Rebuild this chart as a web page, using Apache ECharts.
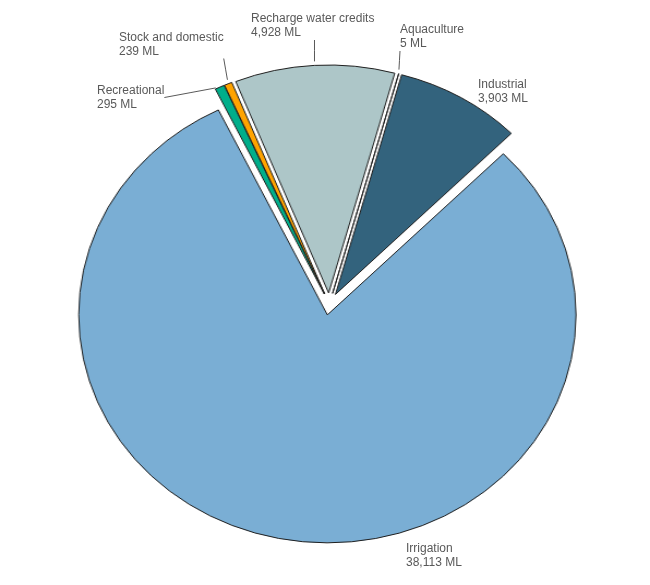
<!DOCTYPE html>
<html>
<head>
<meta charset="utf-8">
<script src="https://cdn.jsdelivr.net/npm/echarts@6/dist/echarts.min.js"></script>
<style>
  html, body { margin: 0; padding: 0; background: #fff; }
  #wrap { position: relative; width: 650px; height: 585px; overflow: hidden; }
  /* the source pie is slightly oval, so the slices are drawn narrower and stretched */
  #pie { position: absolute; left: 0; top: 0; width: 596px; height: 585px; transform: scaleX(1.0906); transform-origin: 0 0; }
  #labels { position: absolute; left: 0; top: 0; width: 650px; height: 585px; }
</style>
</head>
<body>
<div id="wrap"><div id="pie"></div><div id="labels"></div></div>
<script>
var categories = ['Recreational', 'Stock and domestic', 'Recharge water credits', 'Aquaculture', 'Industrial', 'Irrigation'];
var volumes = [295, 239, 4928, 5, 3903, 38113];

var sliceColors = ['#00ae8a', '#ffa300', '#adc6c8', '#ffffff', '#33637d', '#7aaed4'];
// label text box top-left, page pixels
var labelPos = [[97, 83.5], [119, 30.5], [251, 12], [400, 23], [478, 78], [406, 542]];
var showGuide = [true, true, true, true, false, false];

var stretch = 1.0906;
var cx = 302, cy = 304, r = 228, explode = 11;
var cxPage = cx * stretch;

function fmt(v) {
  return v.toLocaleString('en-US') + ' ML';
}

var pieChart = echarts.init(document.getElementById('pie'));
pieChart.setOption({
  animation: false,
  series: [{
    type: 'pie',
    center: [cx, cy],
    radius: r,
    startAngle: 116,
    selectedMode: 'multiple',
    selectedOffset: explode,
    label: { show: false },
    labelLine: { show: false },
    itemStyle: { borderColor: '#1e1e1e', borderWidth: 1 },
    select: { itemStyle: { borderColor: '#1e1e1e', borderWidth: 1 } },
    emphasis: { disabled: true },
    data: categories.map(function (name, i) {
      return { name: name, value: volumes[i], selected: true, itemStyle: { color: sliceColors[i] } };
    })
  }]
});

// second, unstretched pie: invisible slices, carries the labels and guide lines
var labelChart = echarts.init(document.getElementById('labels'));
labelChart.setOption({
  animation: false,
  series: [{
    type: 'pie',
    center: [cxPage, cy],
    radius: r + explode,
    startAngle: 116,
    silent: true,
    itemStyle: { color: 'rgba(0,0,0,0)', borderWidth: 0 },
    label: {
      show: true,
      position: 'outside',
      color: '#595959',
      fontFamily: 'Liberation Sans, Arial, sans-serif',
      fontSize: 12,
      lineHeight: 14,
      formatter: function (p) { return p.name + '\n' + fmt(p.value); }
    },
    labelLine: {
      show: true,
      length: 8,
      length2: 0,
      lineStyle: { color: '#595959', width: 1 }
    },
    labelLayout: function (p) {
      var pos = labelPos[p.dataIndex];
      var lr = p.labelRect;
      var al = p.align || (lr.x + lr.width / 2 < cxPage ? 'right' : 'left');
      var ax = al === 'right' ? lr.x + lr.width : (al === 'center' ? lr.x + lr.width / 2 : lr.x);
      var out = { align: 'left', dx: pos[0] - ax, dy: pos[1] - lr.y };
      if (showGuide[p.dataIndex] && p.labelLinePoints) {
        // anchor moved onto the stretched outline, end at the nearest side of the text box
        var a = p.labelLinePoints[0];
        var sx = cxPage + (a[0] - cxPage) * stretch;
        var sy = a[1];
        var left = pos[0], right = pos[0] + lr.width;
        var top = pos[1], bottom = pos[1] + lr.height;
        var side = sx < left || sx > right;
        var ex = Math.min(Math.max(sx, left), right);
        var ey = Math.min(Math.max(sy, side ? (top + bottom) / 2 : top), bottom);
        var len = Math.sqrt((ex - sx) * (ex - sx) + (ey - sy) * (ey - sy)) || 1;
        var gap = 4 / len;
        var s = [sx + (ex - sx) * gap, sy + (ey - sy) * gap];
        out.labelLinePoints = [s, [(s[0] + ex) / 2, (s[1] + ey) / 2], [ex, ey]];
      }
      return out;
    },
    data: categories.map(function (name, i) {
      return { name: name, value: volumes[i], labelLine: { show: showGuide[i] } };
    })
  }]
});
</script>
</body>
</html>
